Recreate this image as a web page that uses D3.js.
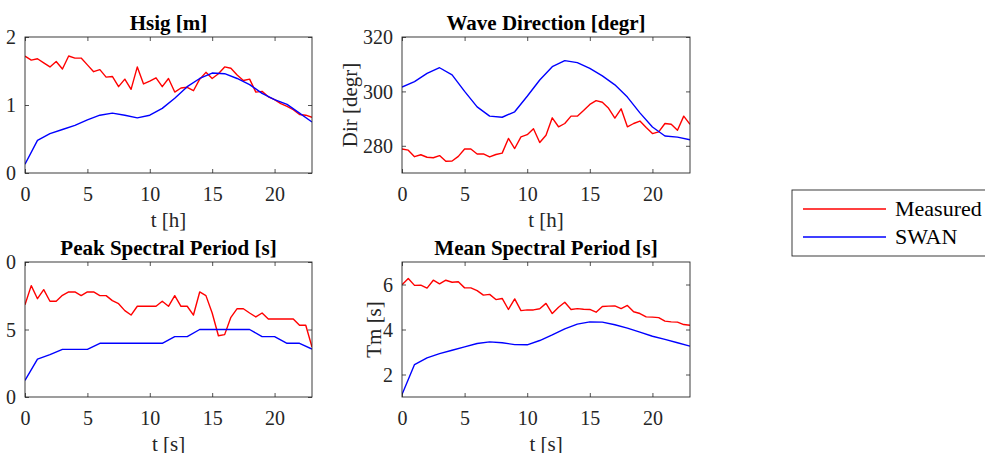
<!DOCTYPE html>
<html>
<head>
<meta charset="utf-8">
<script src="https://cdn.jsdelivr.net/npm/d3@7"></script>
<style>
  body { margin: 0; background: #fff; }
  svg { display: block; font-family: "Liberation Serif", "Times New Roman", serif; }
</style>
</head>
<body>
<div id="chart"></div>
<script>
// time axes: buoy every half hour, SWAN every hour
const tMeasured = [0, 0.5, 1, 1.5, 2, 2.5, 3, 3.5, 4, 4.5, 5, 5.5, 6, 6.5, 7, 7.5, 8, 8.5, 9, 9.5,
  10, 10.5, 11, 11.5, 12, 12.5, 13, 13.5, 14, 14.5, 15, 15.5, 16, 16.5, 17, 17.5, 18, 18.5, 19, 19.5,
  20, 20.5, 21, 21.5, 22, 22.5, 23];
const tSwan = [0, 1, 2, 3, 4, 5, 6, 7, 8, 9, 10, 11, 12, 13, 14, 15, 16, 17, 18, 19, 20, 21, 22, 23];

// Hsig [m]
const hsigMeasured = [1.72, 1.66, 1.68, 1.62, 1.56, 1.64, 1.53, 1.72, 1.69, 1.69, 1.59, 1.49, 1.52, 1.41, 1.42, 1.27,
  1.38, 1.23, 1.56, 1.31, 1.35, 1.40, 1.27, 1.39, 1.19, 1.25, 1.26, 1.21, 1.38, 1.48, 1.39, 1.46, 1.56, 1.54,
  1.44, 1.36, 1.38, 1.19, 1.20, 1.12, 1.08, 1.02, 0.98, 0.93, 0.86, 0.85, 0.82];
const hsigSwan = [0.13, 0.48, 0.58, 0.64, 0.70, 0.78, 0.85, 0.88, 0.85, 0.81, 0.85, 0.95, 1.10, 1.27, 1.39, 1.47,
  1.46, 1.39, 1.30, 1.17, 1.08, 1.01, 0.88, 0.75];

// Wave direction [degr]
const dirMeasured = [278.8, 278.4, 276.0, 276.7, 275.8, 275.6, 276.4, 274.3, 274.4, 276.1, 278.8, 278.8, 277.0, 277.0,
  275.9, 276.8, 277.3, 282.7, 279.0, 283.3, 284.1, 286.3, 281.2, 283.9, 290.3, 287.0, 288.2, 290.9, 290.9, 293.0,
  295.2, 296.6, 296.0, 293.8, 290.2, 293.6, 287.0, 288.2, 289.1, 286.7, 284.5, 285.1, 288.2, 287.9, 285.7, 290.9, 287.9];
const dirSwan = [301.6, 303.6, 306.6, 308.7, 306.1, 300.0, 294.3, 290.9, 290.5, 292.5, 298.2, 304.2, 309.1, 311.3,
  310.6, 308.5, 305.7, 302.4, 297.9, 292.1, 286.9, 283.6, 283.2, 282.2];

// Peak spectral period [s]
const tpMeasured = [6.84, 8.25, 7.28, 7.95, 7.09, 7.09, 7.53, 7.78, 7.78, 7.51, 7.78, 7.78, 7.51, 7.51, 7.14, 6.91,
  6.40, 6.07, 6.72, 6.72, 6.72, 6.72, 7.09, 6.72, 7.51, 6.72, 6.72, 6.07, 7.78, 7.51, 6.22, 4.54, 4.62, 5.90,
  6.54, 6.54, 6.22, 5.93, 6.22, 5.78, 5.78, 5.78, 5.78, 5.78, 5.31, 5.31, 3.70];
const tpSwan = [1.23, 2.81, 3.14, 3.53, 3.53, 3.53, 3.98, 3.98, 3.98, 3.98, 3.98, 3.98, 4.47, 4.47, 5.00, 5.00,
  5.00, 5.00, 5.00, 4.47, 4.47, 3.98, 3.98, 3.55];

// Mean spectral period [s]
const tmMeasured = [5.99, 6.27, 5.96, 5.97, 5.84, 6.19, 6.03, 6.19, 6.10, 6.12, 5.85, 5.85, 5.73, 5.53, 5.56, 5.33,
  5.38, 4.89, 5.36, 4.84, 4.87, 4.87, 4.92, 5.16, 4.71, 4.99, 5.21, 4.89, 4.93, 4.90, 4.89, 4.77, 5.02, 5.04,
  5.05, 4.93, 5.07, 4.79, 4.71, 4.56, 4.55, 4.53, 4.37, 4.34, 4.33, 4.22, 4.19];
const tmSwan = [1.11, 2.44, 2.74, 2.93, 3.08, 3.23, 3.38, 3.45, 3.41, 3.33, 3.32, 3.51, 3.76, 4.03, 4.24, 4.34,
  4.33, 4.21, 4.06, 3.88, 3.70, 3.56, 3.41, 3.26];

const seriesNames = ["Measured", "SWAN"];
const seriesColors = ["#ff0000", "#0000ff"];

const xTicks = [0, 5, 10, 15, 20];
const hsigTicks = [0, 1, 2];
const dirTicks = [280, 300, 320];
const tpTicks = [0, 5, 10];
const tpTickLabels = ["0", "5", "0"];   // as printed in the figure (leading digit cut)
const tmTicks = [2, 4, 6];

const W = 985, H = 453;
const axisColor = "#262626";
const serif = "'Liberation Serif', 'Times New Roman', serif";

const panels = [
  { title: "Hsig [m]", xlabel: "t [h]", ylabel: null, x0: 25, y0: 37, x1: 312, y1: 173,
    ydom: [0, 2], yticks: hsigTicks, series: [hsigMeasured, hsigSwan] },
  { title: "Wave Direction [degr]", xlabel: "t [h]", ylabel: "Dir [degr]", ylabelX: 357, x0: 402, y0: 37, x1: 690, y1: 173,
    ydom: [270, 320], yticks: dirTicks, series: [dirMeasured, dirSwan] },
  { title: "Peak Spectral Period [s]", xlabel: "t [s]", ylabel: null, x0: 25, y0: 262, x1: 312, y1: 397,
    ydom: [0, 10], yticks: tpTicks, ytickLabels: tpTickLabels, series: [tpMeasured, tpSwan] },
  { title: "Mean Spectral Period [s]", xlabel: "t [s]", ylabel: "Tm [s]", ylabelX: 381, x0: 402, y0: 262, x1: 690, y1: 397,
    ydom: [1, 7], yticks: tmTicks, series: [tmMeasured, tmSwan] }
];

const svg = d3.select("#chart").append("svg")
  .attr("width", W)
  .attr("height", H)
  .style("background", "#fff");

panels.forEach((p, pi) => {
  const x = d3.scaleLinear().domain([0, 23]).range([p.x0, p.x1]);
  const y = d3.scaleLinear().domain(p.ydom).range([p.y1, p.y0]);
  const g = svg.append("g").attr("class", "panel");
  const clipId = "clip" + pi;

  g.append("clipPath").attr("id", clipId)
    .append("rect")
    .attr("x", p.x0).attr("y", p.y0)
    .attr("width", p.x1 - p.x0).attr("height", p.y1 - p.y0);

  // lines
  const times = [tMeasured, tSwan];
  p.series.forEach((vals, si) => {
    const line = d3.line()
      .x((d, i) => x(times[si][i]))
      .y(d => y(d));
    g.append("path")
      .datum(vals)
      .attr("d", line)
      .attr("fill", "none")
      .attr("stroke", seriesColors[si])
      .attr("stroke-width", 1.4)
      .attr("stroke-linejoin", "round")
      .attr("clip-path", `url(#${clipId})`);
  });

  // axes, ticks pointing inward on all four sides
  const fmt = d3.format("d");
  const xAxis = d3.axisBottom(x).tickValues(xTicks).tickFormat(fmt).tickSize(-4).tickPadding(14).tickSizeOuter(0);
  const gx = g.append("g").attr("transform", `translate(0,${p.y1})`).call(xAxis);
  const xTop = d3.axisTop(x).tickValues(xTicks).tickSize(-4).tickFormat("").tickSizeOuter(0);
  const gxt = g.append("g").attr("transform", `translate(0,${p.y0})`).call(xTop);

  const yAxis = d3.axisLeft(y).tickValues(p.yticks).tickFormat(fmt).tickSize(-4).tickPadding(9).tickSizeOuter(0);
  if (p.ytickLabels) yAxis.tickFormat((d, i) => p.ytickLabels[i]);
  const gy = g.append("g").attr("transform", `translate(${p.x0},0)`).call(yAxis);
  const yRight = d3.axisRight(y).tickValues(p.yticks).tickSize(-4).tickFormat("").tickSizeOuter(0);
  const gyr = g.append("g").attr("transform", `translate(${p.x1},0)`).call(yRight);

  [gx, gxt, gy, gyr].forEach(a => {
    a.attr("font-family", serif).attr("font-size", 20);
    a.select(".domain").remove();
    a.selectAll("line").attr("stroke", axisColor).attr("stroke-width", 0.8);
    a.selectAll("text").attr("fill", axisColor);
  });
  gx.selectAll("text").attr("dy", "0.71em");
  gy.selectAll("text").attr("dy", "0.33em");

  // box
  g.append("rect")
    .attr("x", p.x0).attr("y", p.y0)
    .attr("width", p.x1 - p.x0).attr("height", p.y1 - p.y0)
    .attr("fill", "none")
    .attr("stroke", axisColor)
    .attr("stroke-width", 0.9);

  // title
  g.append("text")
    .attr("x", (p.x0 + p.x1) / 2)
    .attr("y", p.y0 - 7)
    .attr("text-anchor", "middle")
    .attr("font-size", "21px")
    .attr("font-weight", "bold")
    .attr("fill", "#000")
    .text(p.title);

  // x label
  g.append("text")
    .attr("x", (p.x0 + p.x1) / 2)
    .attr("y", p.y1 + 54)
    .attr("text-anchor", "middle")
    .attr("font-size", "21px")
    .attr("fill", axisColor)
    .text(p.xlabel);

  // y label
  if (p.ylabel) {
    const cy = (p.y0 + p.y1) / 2;
    g.append("text")
      .attr("transform", `translate(${p.ylabelX},${cy}) rotate(-90)`)
      .attr("text-anchor", "middle")
      .attr("font-size", "21px")
      .attr("fill", axisColor)
      .text(p.ylabel);
  }
});

// legend
const legend = svg.append("g").attr("class", "legend");
legend.append("rect")
  .attr("x", 792).attr("y", 190)
  .attr("width", 200).attr("height", 66)
  .attr("fill", "#fff")
  .attr("stroke", axisColor)
  .attr("stroke-width", 0.9);

const legendY = d3.scalePoint().domain(seriesNames).range([209, 237]);
seriesNames.forEach((name, i) => {
  legend.append("line")
    .attr("x1", 803).attr("x2", 886)
    .attr("y1", legendY(name)).attr("y2", legendY(name))
    .attr("stroke", seriesColors[i])
    .attr("stroke-width", 1.4);
  legend.append("text")
    .attr("x", 895)
    .attr("y", legendY(name))
    .attr("dy", "0.33em")
    .attr("font-size", "22px")
    .attr("fill", "#000")
    .text(name);
});
</script>
</body>
</html>
